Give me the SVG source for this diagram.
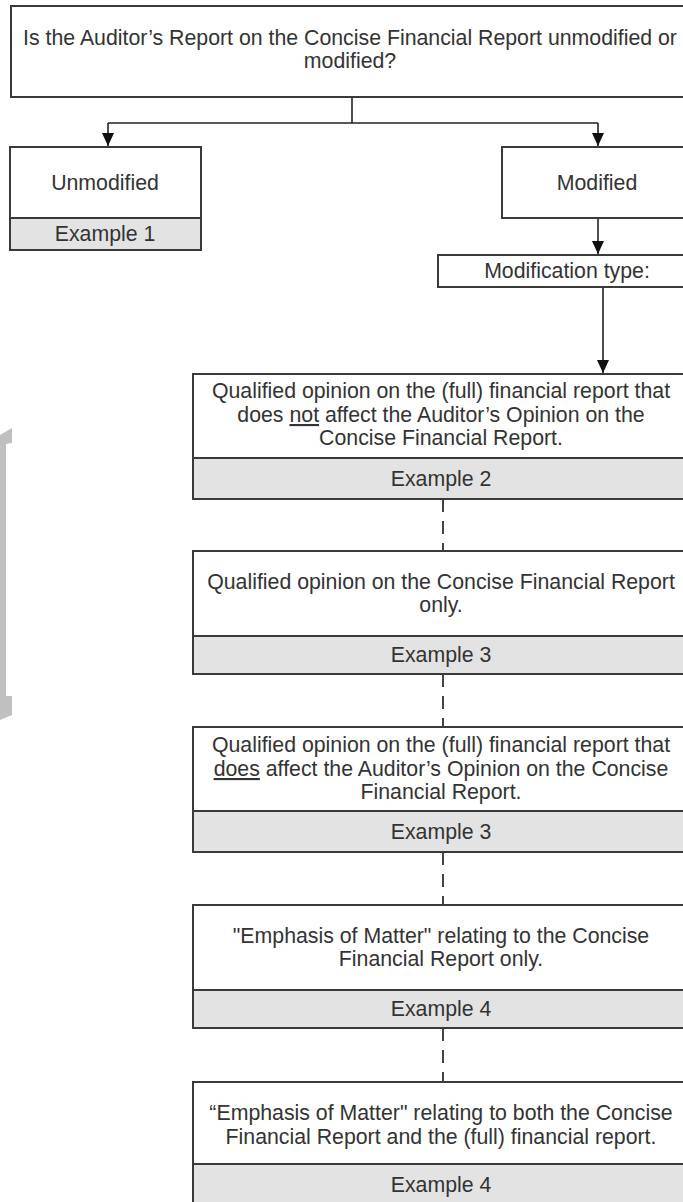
<svg xmlns="http://www.w3.org/2000/svg" width="683" height="1202" viewBox="0 0 683 1202">
<style>
.box{fill:#fff;stroke:#3a3a3a;stroke-width:2}
.ex{fill:#e3e3e3;stroke:#3a3a3a;stroke-width:2}
.t{font-family:"Liberation Sans",Arial,sans-serif;font-size:21.3px;fill:#333;text-anchor:middle}
.u{text-decoration:underline}
.ln{stroke:#222;stroke-width:1.6;fill:none}
.dash{stroke:#444;stroke-width:2;fill:none;stroke-dasharray:13 9}
</style>
<defs>
<marker id="ad" markerUnits="userSpaceOnUse" markerWidth="12" markerHeight="13" refX="6" refY="13" viewBox="0 0 12 13">
<path d="M0,0 L12,0 L6,13 Z" fill="#111"/>
</marker>
</defs>
<polygon id="bracket" points="0,435 12,428 12,443 6,444 6,696 12,696 12,715 0,720" fill="#c0c0c0"/>
<g id="connectors">
<line class="ln" x1="352" y1="97" x2="352" y2="123"/>
<line class="ln" x1="108" y1="123" x2="598" y2="123"/>
<line class="ln" x1="108" y1="123" x2="108" y2="146" marker-end="url(#ad)"/>
<line class="ln" x1="598" y1="123" x2="598" y2="146" marker-end="url(#ad)"/>
<line class="ln" x1="598" y1="218" x2="598" y2="254" marker-end="url(#ad)"/>
<line class="ln" x1="603" y1="287" x2="603" y2="373" marker-end="url(#ad)"/>
<line class="dash" x1="443" y1="499" x2="443" y2="551"/>
<line class="dash" x1="443" y1="674" x2="443" y2="727"/>
<line class="dash" x1="443" y1="852" x2="443" y2="905"/>
<line class="dash" x1="443" y1="1028" x2="443" y2="1082"/>
</g>
<g id="question">
<rect class="box" x="11" y="6" width="680" height="91"/>
<text class="t" x="350" y="45">Is the Auditor’s Report on the Concise Financial Report unmodified or</text>
<text class="t" x="350" y="68">modified?</text>
</g>
<g id="unmodified">
<rect class="box" x="10" y="147" width="191" height="71"/>
<rect class="ex" x="10" y="218" width="191" height="32"/>
<text class="t" x="105" y="190">Unmodified</text>
<text class="t" x="105" y="241">Example 1</text>
</g>
<g id="modified">
<rect class="box" x="502" y="147" width="192" height="71"/>
<text class="t" x="597" y="190">Modified</text>
</g>
<g id="modtype">
<rect class="box" x="438" y="255" width="260" height="32"/>
<text class="t" x="567" y="278">Modification type:</text>
</g>
<g id="q1">
<rect class="box" x="193" y="374" width="497" height="84"/>
<rect class="ex" x="193" y="458" width="497" height="41"/>
<text class="t" x="441" y="398">Qualified opinion on the (full) financial report that</text>
<text class="t" x="441" y="422">does <tspan class="u">not</tspan> affect the Auditor’s Opinion on the</text>
<text class="t" x="441" y="445">Concise Financial Report.</text>
<text class="t" x="441" y="486">Example 2</text>
</g>
<g id="q2">
<rect class="box" x="193" y="551" width="497" height="85"/>
<rect class="ex" x="193" y="636" width="497" height="38"/>
<text class="t" x="441" y="589">Qualified opinion on the Concise Financial Report</text>
<text class="t" x="441" y="612">only.</text>
<text class="t" x="441" y="662">Example 3</text>
</g>
<g id="q3">
<rect class="box" x="193" y="727" width="497" height="84"/>
<rect class="ex" x="193" y="811" width="497" height="41"/>
<text class="t" x="441" y="752">Qualified opinion on the (full) financial report that</text>
<text class="t" x="441" y="776"><tspan class="u">does</tspan> affect the Auditor’s Opinion on the Concise</text>
<text class="t" x="441" y="799">Financial Report.</text>
<text class="t" x="441" y="839">Example 3</text>
</g>
<g id="q4">
<rect class="box" x="193" y="905" width="497" height="85"/>
<rect class="ex" x="193" y="990" width="497" height="38"/>
<text class="t" x="441" y="943">"Emphasis of Matter" relating to the Concise</text>
<text class="t" x="441" y="966">Financial Report only.</text>
<text class="t" x="441" y="1016">Example 4</text>
</g>
<g id="q5">
<rect class="box" x="193" y="1082" width="497" height="82"/>
<rect class="ex" x="193" y="1164" width="497" height="45"/>
<text class="t" x="441" y="1120">“Emphasis of Matter" relating to both the Concise</text>
<text class="t" x="441" y="1144">Financial Report and the (full) financial report.</text>
<text class="t" x="441" y="1192">Example 4</text>
</g>
</svg>
